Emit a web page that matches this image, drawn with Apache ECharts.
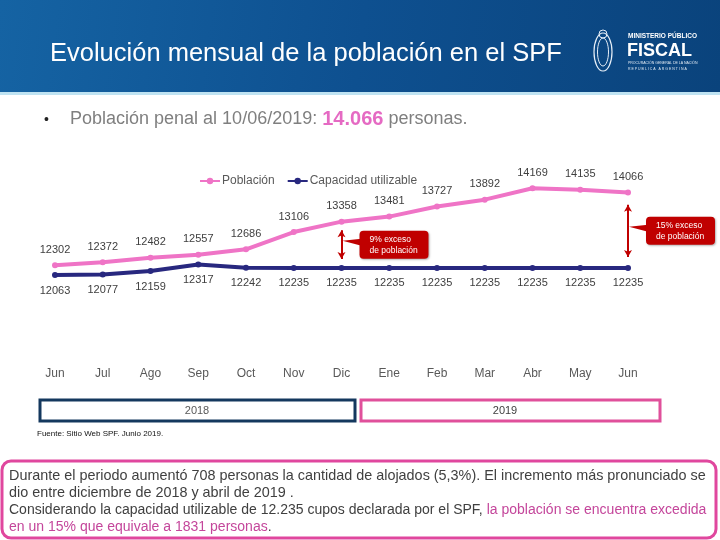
<!DOCTYPE html>
<html><head><meta charset="utf-8">
<script src="https://cdn.jsdelivr.net/npm/echarts@6/dist/echarts.min.js"></script>
<style>html,body{margin:0;padding:0;background:#fff}#c{width:720px;height:540px}</style>
</head><body><div id="c"></div>
<script>
var months = ['Jun','Jul','Ago','Sep','Oct','Nov','Dic','Ene','Feb','Mar','Abr','May','Jun'];
var poblacion = [12302,12372,12482,12557,12686,13106,13358,13481,13727,13892,14169,14135,14066];
var capacidad = [12063,12077,12159,12317,12242,12235,12235,12235,12235,12235,12235,12235,12235];
var seriesNames = ['Población','Capacidad utilizable'];
var callouts = [
  {idx: 6, from: 13150, to: 12450, lines: ['9% exceso','de población']},
  {idx: 12, from: 13770, to: 12500, lines: ['15% exceso','de población']}
];
var FONT = 'Liberation Sans, Arial, sans-serif';
var PINK = '#ef74c6', NAVY = '#28287f', RED = '#c00000';

var chart = echarts.init(document.getElementById('c'), null, {renderer:'canvas'});
var option = {
  animation: false,
  textStyle: {fontFamily: FONT},
  legend: {
    top: 170, left: 194, itemWidth: 20, itemHeight: 8, itemGap: 12,
    textStyle: {color: '#595959', fontSize: 12, fontFamily: FONT, padding: [0,0,0,-3]},
    data: seriesNames
  },
  grid: {left: 55, right: 92, top: 154, bottom: 180},
  xAxis: {
    type: 'category', data: months, boundaryGap: false,
    axisLine: {show: false}, axisTick: {show: false},
    axisLabel: {color: '#595959', fontSize: 12, margin: 8, fontFamily: FONT}
  },
  yAxis: {type: 'value', min: 10000, max: 15000, show: false, splitLine: {show: false}},
  series: [
    {name: seriesNames[0], type: 'line', data: poblacion, color: PINK,
     lineStyle: {width: 4, color: PINK}, symbol: 'circle', symbolSize: 6,
     itemStyle: {color: PINK},
     label: {show: true, position: 'top', distance: 7, color: '#404040', fontSize: 11, fontFamily: FONT},
     markLine: {silent: true, symbol: ['arrow','arrow'], symbolSize: [6,7],
       lineStyle: {color: RED, width: 2, type: 'solid'}, label: {show: false},
       data: callouts.map(function(c){return [{coord:[c.idx, c.from]},{coord:[c.idx, c.to]}];})}
    },
    {name: seriesNames[1], type: 'line', data: capacidad, color: NAVY,
     lineStyle: {width: 4, color: NAVY}, symbol: 'circle', symbolSize: 6,
     itemStyle: {color: NAVY},
     label: {show: true, position: 'bottom', distance: 7, color: '#404040', fontSize: 11, fontFamily: FONT}
    }
  ]
};
chart.setOption(option);

var g = [];
// header
g.push({type:'rect', shape:{x:0,y:0,width:720,height:92}, z:-1,
  style:{fill:new echarts.graphic.LinearGradient(0,0,1,1,[{offset:0,color:'#1563a3'},{offset:0.5,color:'#0e5090'},{offset:1,color:'#0a437c'}])}});
g.push({type:'rect', shape:{x:0,y:92,width:720,height:3}, style:{fill:'#bfe3f2'}});
g.push({type:'text', x:50, y:54, style:{text:'Evolución mensual de la población en el SPF', fill:'#fff', font:'25.5px '+FONT, textVerticalAlign:'middle'}});
// logo
g.push({type:'ellipse', shape:{cx:603,cy:52,rx:9,ry:19}, style:{fill:'none', stroke:'#e6eef7', lineWidth:1.2}});
g.push({type:'ellipse', shape:{cx:603,cy:52,rx:5.5,ry:14}, style:{fill:'none', stroke:'#e6eef7', lineWidth:1}});
g.push({type:'circle', shape:{cx:603,cy:34,r:4}, style:{fill:'none', stroke:'#e6eef7', lineWidth:1}});
g.push({type:'text', x:628, y:36, style:{text:'MINISTERIO PÚBLICO', fill:'#fff', font:'bold 6.5px '+FONT, textVerticalAlign:'middle'}});
g.push({type:'text', x:627, y:51, style:{text:'FISCAL', fill:'#fff', font:'bold 18px '+FONT, textVerticalAlign:'middle'}});
g.push({type:'text', x:628, y:63, style:{text:'PROCURACIÓN GENERAL DE LA NACIÓN', fill:'#dfe8f2', font:'3.5px '+FONT, textVerticalAlign:'middle'}});
g.push({type:'text', x:628, y:69, style:{text:'R E P Ú B L I C A   A R G E N T I N A', fill:'#dfe8f2', font:'3.5px '+FONT, textVerticalAlign:'middle'}});
// subtitle
g.push({type:'text', x:44, y:120, style:{text:'•', fill:'#222', font:'14px '+FONT, textVerticalAlign:'middle'}});
g.push({type:'text', x:70, y:119, style:{
  text:'{a|Población penal al 10/06/2019: }{b|14.066}{a| personas.}',
  textVerticalAlign:'middle',
  rich:{a:{fill:'#7f7f7f', font:'18px '+FONT}, b:{fill:'#e56ac3', font:'bold 20px '+FONT}}}});
// year boxes
g.push({type:'rect', shape:{x:40,y:400,width:315,height:21}, style:{fill:'#fff', stroke:'#14385e', lineWidth:3}});
g.push({type:'text', x:197, y:411, style:{text:'2018', fill:'#595959', font:'11px '+FONT, textAlign:'center', textVerticalAlign:'middle'}});
g.push({type:'rect', shape:{x:361,y:400,width:299,height:21}, style:{fill:'#fff', stroke:'#e0509b', lineWidth:3}});
g.push({type:'text', x:505, y:411, style:{text:'2019', fill:'#404040', font:'11px '+FONT, textAlign:'center', textVerticalAlign:'middle'}});
// source
g.push({type:'text', x:37, y:434, style:{text:'Fuente: Sitio Web SPF. Junio 2019.', fill:'#111', font:'8px '+FONT, textVerticalAlign:'middle'}});
// bottom box
g.push({type:'rect', shape:{x:2,y:461,width:714,height:77,r:9}, style:{fill:'#fff', stroke:'#e0479e', lineWidth:3}});
var lines = [
  [['a','Durante el periodo aumentó 708 personas la cantidad de alojados (5,3%). El incremento más pronunciado se']],
  [['a','dio entre diciembre de 2018 y abril de 2019 .']],
  [['a','Considerando la capacidad utilizable de 12.235 cupos declarada por el SPF, '],['p','la población se encuentra excedida']],
  [['p','en un 15% que equivale a 1831 personas'],['a','.']]
];
// fit paragraph font size so full lines span the box width like the original
var ctx = document.createElement('canvas').getContext('2d');
function fitSize(ln, target){
  ctx.font = '100px ' + FONT;
  var w = ctx.measureText(ln.map(function(s){return s[1];}).join('')).width;
  return Math.min(14.4, 100 * target / w);
}
var s1 = fitSize(lines[0], 698), s2 = fitSize(lines[2], 698);
var sizes = [s1, s1, s2, s2];
lines.forEach(function(ln, i){
  var fs = sizes[i].toFixed(2) + 'px ';
  g.push({type:'text', x:9, y:476 + i*17, style:{
    text: ln.map(function(s){return '{'+s[0]+'|'+s[1]+'}';}).join(''),
    textVerticalAlign:'middle',
    rich:{a:{fill:'#404040', font:fs+FONT}, p:{fill:'#c4469b', font:fs+FONT}}}});
});
// callouts (positions derived from the chart scales)
callouts.forEach(function(c){
  var top = chart.convertToPixel({gridIndex:0}, [c.idx, c.from]);
  var bot = chart.convertToPixel({gridIndex:0}, [c.idx, c.to]);
  var ax = top[0];
  var midY = (top[1] + bot[1]) / 2;
  var bx = ax + 18, bw = 69, bh = 28, by = midY - 14;
  g.push({type:'polygon', shape:{points:[[ax+1, midY-4],[bx+2, midY-6],[bx+2, midY+1]]}, style:{fill:RED}});
  g.push({type:'rect', shape:{x:bx, y:by, width:bw, height:bh, r:4}, style:{fill:RED, shadowBlur:2, shadowColor:'rgba(0,0,0,0.3)', shadowOffsetX:1, shadowOffsetY:1}});
  g.push({type:'text', x:bx+10, y:by+9, style:{text:c.lines[0], fill:'#fff', font:'8.5px '+FONT, textVerticalAlign:'middle'}});
  g.push({type:'text', x:bx+10, y:by+20, style:{text:c.lines[1], fill:'#fff', font:'8.5px '+FONT, textVerticalAlign:'middle'}});
});
chart.setOption({graphic: g});
</script></body></html>
